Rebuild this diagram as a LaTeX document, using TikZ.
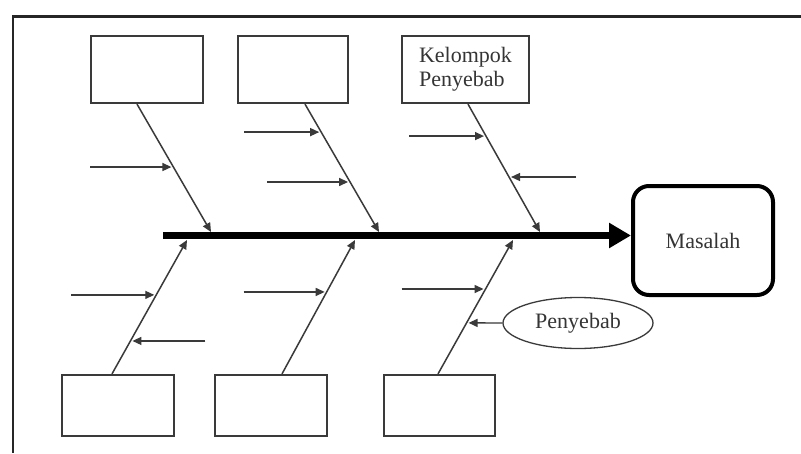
\documentclass[tikz,border=0pt]{standalone}
\usepackage{fontspec}
\setmainfont{Liberation Serif}
\usetikzlibrary{arrows.meta,shapes.geometric,calc}
\definecolor{ink}{HTML}{3A3A3A}
\definecolor{txt}{HTML}{353535}
\begin{document}
\begin{tikzpicture}[x=1pt,y=-1pt,
  causebox/.style={draw=ink,line width=2.2pt,minimum height=67pt,inner sep=0pt},
  lowbox/.style={causebox,minimum height=61pt},
  bone/.style={draw=ink,line width=1.5pt,-{Triangle[length=9pt,width=8pt]}},
  cause/.style={draw=ink,line width=1.4pt,-{Triangle[length=9pt,width=8pt]},shorten >=2pt},
  spine/.style={draw=black,line width=7.5pt,-{Triangle[length=22pt,width=24pt]}},
  framerule/.style={draw=black!85,line width=2.3pt},
  label/.style={text=txt,font=\fontsize{22}{24}\selectfont}
]
% canvas
\fill[white] (0,0) rectangle (801,453);
\useasboundingbox (0,0) rectangle (801,453);

% page frame
\coordinate (fr0) at (13,16.5);
\coordinate (fr1) at (801,16.5);
\coordinate (fr2) at (13,453);
\draw[framerule] ([xshift=-1pt]fr0) -- (fr1);
\draw[framerule,line width=2pt] (fr0) -- (fr2);

% problem box
\node[draw=black,line width=4pt,rounded corners=16pt,minimum width=140pt,
      minimum height=109pt,inner sep=0pt,label] (mas) at (703,240.5) {Masalah};

% cause group boxes
\node[causebox,minimum width=112pt] (b1) at (147,69.5) {};
\node[causebox,minimum width=110pt] (b2) at (293,69.5) {};
\node[causebox,minimum width=127pt,align=left,label] (b3) at (465.5,69.5) {Kelompok\\Penyebab};
\node[lowbox,minimum width=112pt] (b4) at (118,405.5) {};
\node[lowbox,minimum width=112pt] (b5) at (271,405.5) {};
\node[lowbox,minimum width=111pt] (b6) at (439.5,405.5) {};

% single cause
\node[draw=ink,line width=1.3pt,ellipse,minimum width=150pt,minimum height=51pt,
      inner sep=0pt,label] (pen) at (578,323) {Penyebab};

% spine
\coordinate (s0) at (163,235.5);
\draw[spine] (s0) -- (s0 -| mas.west);

% bone ends on the spine
\coordinate (t1) at (211,232);
\coordinate (t2) at (379,232);
\coordinate (t3) at (540,232);
\coordinate (t4) at (187,240);
\coordinate (t5) at (355,240);
\coordinate (t6) at (513,240);

% bone starts on the boxes
\coordinate (r1) at ([xshift=-10pt]b1.south);
\coordinate (r2) at ([xshift=12pt]b2.south);
\coordinate (r3) at ([xshift=2.5pt]b3.south);
\coordinate (r4) at ([xshift=-6pt]b4.north);
\coordinate (r5) at ([xshift=11pt]b5.north);
\coordinate (r6) at ([xshift=-1.5pt]b6.north);

\foreach \i in {1,...,6} {\draw[bone] (r\i) -- (t\i);}

% points where causes meet the bones
\path (r1) -- (t1) coordinate[pos=0.492] (p1);
\path (r2) -- (t2) coordinate[pos=0.219] (p2a) coordinate[pos=0.609] (p2b);
\path (r3) -- (t3) coordinate[pos=0.25] (p3a) coordinate[pos=0.57] (p3b);
\path (r4) -- (t4) coordinate[pos=0.59] (p4a) coordinate[pos=0.246] (p4b);
\path (r5) -- (t5) coordinate[pos=0.612] (p5);
\path (r6) -- (t6) coordinate[pos=0.634] (p6a) coordinate[pos=0.381] (p6b);

% cause arrows
\draw[cause] ([xshift=-83pt]p1) -- (p1);
\draw[cause] ([xshift=-77pt]p2a) -- (p2a);
\draw[cause] ([xshift=-83pt]p2b) -- (p2b);
\draw[cause] ([xshift=-77pt]p3a) -- (p3a);
\draw[cause] ([xshift=67pt]p3b) -- (p3b);
\draw[cause] ([xshift=-85pt]p4a) -- (p4a);
\draw[cause] ([xshift=75pt]p4b) -- (p4b);
\draw[cause] ([xshift=-83pt]p5) -- (p5);
\draw[cause] ([xshift=-84pt]p6a) -- (p6a);
\draw[cause] (pen.west) -- (p6b);
\end{tikzpicture}
\end{document}
